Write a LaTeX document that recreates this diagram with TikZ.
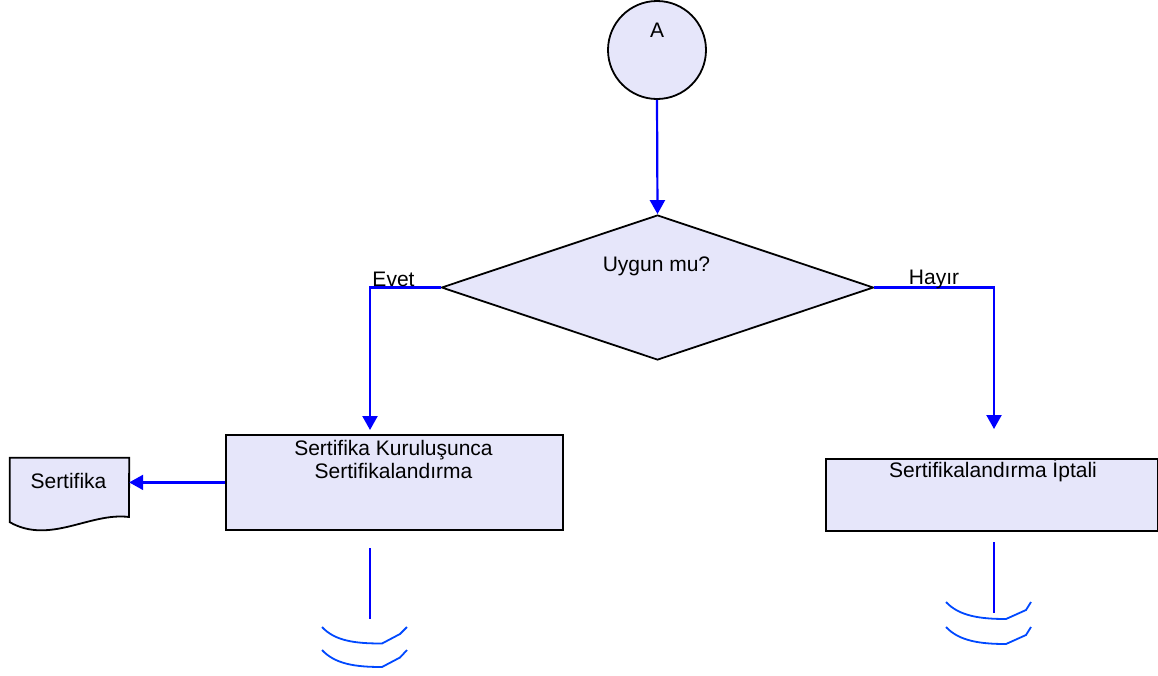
\documentclass[tikz,border=0pt]{standalone}
\usepackage{fontspec}
\setmainfont{Liberation Sans}
\usetikzlibrary{shapes.geometric,arrows.meta}
\definecolor{lav}{RGB}{230,230,250}
\definecolor{conn}{RGB}{0,0,255}
\definecolor{stub}{RGB}{0,72,255}
\begin{document}
\begin{tikzpicture}[x=1pt,y=-1pt, font=\fontsize{21}{23}\selectfont,
  shapebox/.style={draw=black, line width=1.8pt, fill=lav},
  flow/.style={draw=conn, line width=2.2pt, -{Triangle[length=14pt,width=15pt]}},
  lbl/.style={anchor=base, inner sep=0pt},
  stubline/.style={draw=stub, line width=1.8pt},
  stubstem/.style={draw=conn, line width=2pt}]
\useasboundingbox (0,0) rectangle (1158,675);

% start connector
\node[shapebox, circle, minimum size=98pt, inner sep=0pt] (A) at (657,50) {};
\node[lbl] (Atext) at (657,37) {A};

% decision
\node[shapebox, diamond, minimum width=432pt, minimum height=145pt, inner sep=0pt] (dec) at (657.5,287.5) {};
\node[lbl] (dectext) at (656.5,271.5) {Uygun mu?};

% process boxes
\node[shapebox, rectangle, minimum width=337pt, minimum height=95pt, inner sep=0pt, anchor=north west] (b1) at (225,434) {};
\node[lbl] (b1ta) at (393.5,455) {Sertifika Kuruluşunca};
\node[lbl] (b1tb) at (393.5,478) {Sertifikalandırma};

\node[shapebox, rectangle, minimum width=332pt, minimum height=72pt, inner sep=0pt, anchor=north west] (b2) at (825,458) {};
\node[lbl] (b2t) at (993,477) {Sertifikalandırma İptali};

% document
\node[minimum width=119pt, minimum height=64pt, inner sep=0pt] (doc) at (69.5,490) {};
\draw[shapebox] (doc.north west) -- (doc.north east) -- (129,517)
  .. controls (90,512) and (50,545) .. (doc.south west) -- cycle;
\node[lbl] (doct) at (68.5,488) {Sertifika};

% connectors
\draw[flow] (A.south) -- (dec.north);
\coordinate (evetend) at (370,430);
\coordinate (hayirend) at (994,429);
\draw[flow] (dec.west) -| (evetend);
\draw[flow] (dec.east) -| (hayirend);
\draw[flow] (b1.west) -- (b1.west -| doc.east);

\node[lbl] (evet) at (393.5,286) {Evet};
\node[lbl] (hayir) at (934,284) {Hayır};

% continuation stubs
\draw[stubstem] (370,548) -- (370,619);
\draw[stubline] (322,627) .. controls (335,641) and (355,643.5) .. (382,643.5) -- (400,634) -- (407,627);
\draw[stubline] (322,650) .. controls (335,664) and (355,667) .. (382,667) -- (400,657.5) -- (407,650);

\draw[stubstem] (994,542) -- (994,613);
\draw[stubline] (946,602) .. controls (959,616) and (980,619) .. (1006,619) -- (1026,610) -- (1031,602);
\draw[stubline] (946,627) .. controls (959,641) and (980,644) .. (1006,644) -- (1026,635) -- (1031,627);
\end{tikzpicture}
\end{document}
